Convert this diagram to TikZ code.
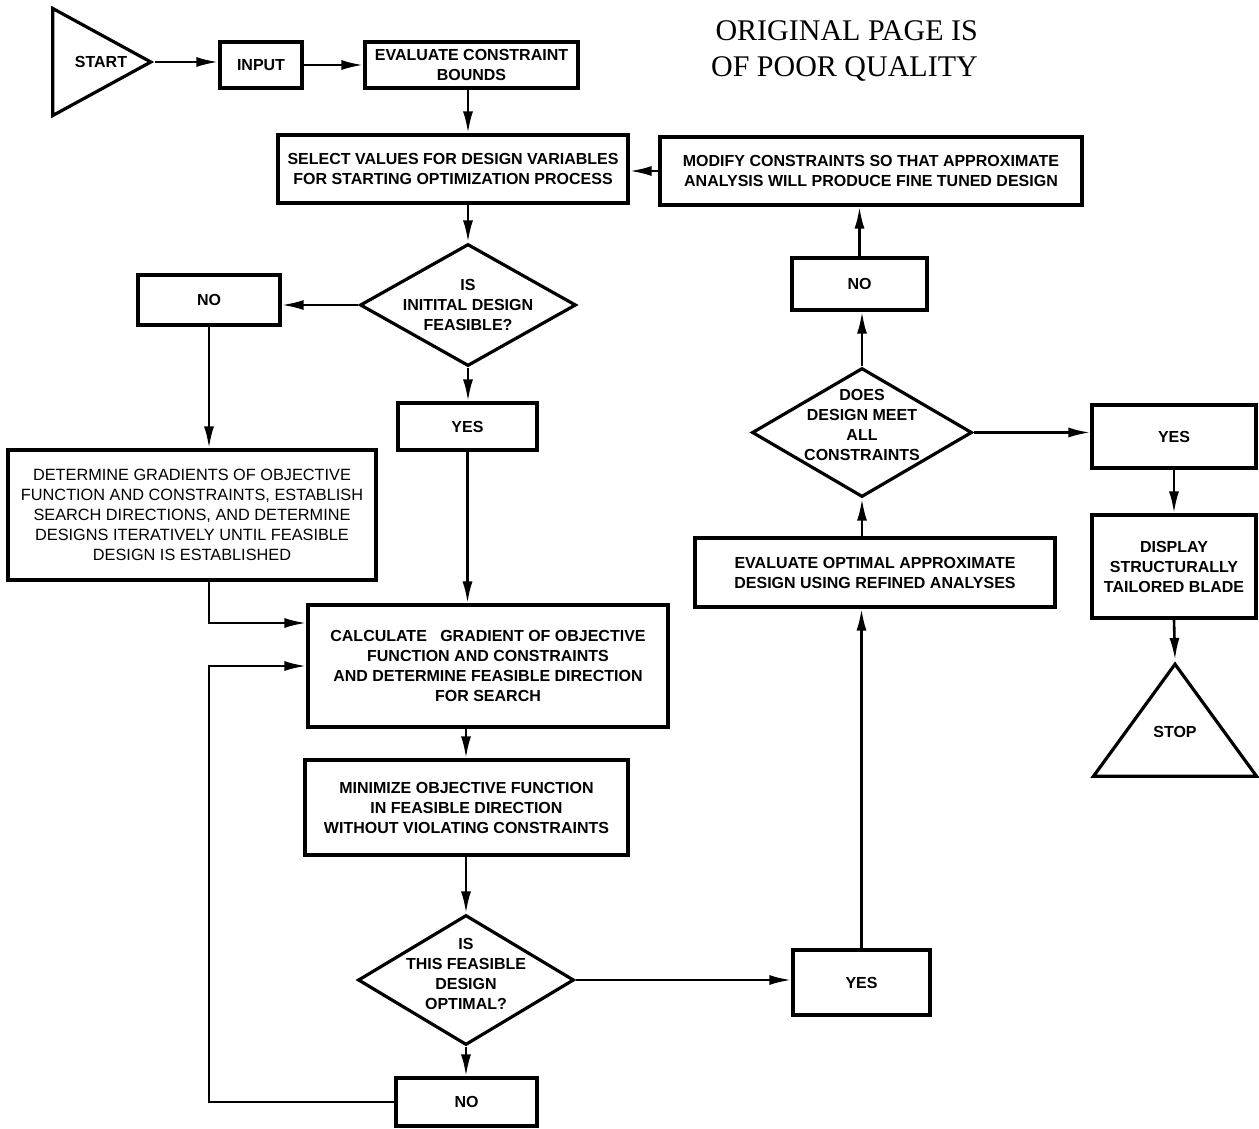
\documentclass[tikz,border=0pt]{standalone}
\usepackage{fontspec}
\setmainfont{Liberation Sans}
\newfontfamily\titlefont{Liberation Serif}
\usetikzlibrary{shapes.geometric,arrows.meta,calc}
\begin{document}
\begin{tikzpicture}[x=1pt,y=-1pt,
  every node/.style={font=\bfseries\fontsize{16}{20}\selectfont, align=center, inner sep=0pt},
  lighttext/.style={font=\fontsize{16.3}{20}\selectfont},
  box/.style={draw, line width=3.2pt, rectangle},
  dia/.style={draw, line width=3.2pt, diamond},
  tri/.style={draw, line width=3.2pt, isosceles triangle, isosceles triangle stretches},
  arr/.style={line width=2.6pt, -{Latex[length=22pt,width=10pt]}}]
\useasboundingbox (0,0) rectangle (1259,1128);

% title
\node[font=\titlefont\fontsize{30}{36}\selectfont, align=right, anchor=north east] (title) at (978,20) {ORIGINAL PAGE IS\\OF POOR QUALITY};

% nodes
\node[tri, minimum height=98pt, minimum width=107pt, anchor=apex] (start) at (155,62) {};
\node (startt) at (101,62) {START};
\node[box, minimum width=82pt, minimum height=46pt] (input) at (261,65) {INPUT};
\node[box, minimum width=213pt, minimum height=46pt] (eval) at (471.5,65) {EVALUATE CONSTRAINT\\BOUNDS};
\node[box, minimum width=350pt, minimum height=68pt] (select) at (453,169) {SELECT VALUES FOR DESIGN VARIABLES\\FOR STARTING OPTIMIZATION PROCESS};
\node[box, minimum width=422pt, minimum height=68pt] (modify) at (871,171) {MODIFY CONSTRAINTS SO THAT APPROXIMATE\\ANALYSIS WILL PRODUCE FINE TUNED DESIGN};
\node[dia, minimum width=216pt, minimum height=122pt] (dia1) at (468,305) {};
\node (dia1t) at (468,305) {IS\\INITITAL DESIGN\\FEASIBLE?};
\node[box, minimum width=142pt, minimum height=50pt] (noL) at (209,300) {NO};
\node[box, minimum width=139pt, minimum height=47pt] (yesL) at (467.5,426.5) {YES};
\node[box, lighttext, minimum width=368pt, minimum height=130pt] (det) at (192,515) {DETERMINE GRADIENTS OF OBJECTIVE\\FUNCTION AND CONSTRAINTS, ESTABLISH\\SEARCH DIRECTIONS, AND DETERMINE\\DESIGNS ITERATIVELY UNTIL FEASIBLE\\DESIGN IS ESTABLISHED};
\node[box, minimum width=360pt, minimum height=122pt] (calc) at (488,666) {CALCULATE \ \ GRADIENT OF OBJECTIVE\\FUNCTION AND CONSTRAINTS\\AND DETERMINE FEASIBLE DIRECTION\\FOR SEARCH};
\node[box, minimum width=323pt, minimum height=95pt] (minim) at (466.5,807.5) {MINIMIZE OBJECTIVE FUNCTION\\IN FEASIBLE DIRECTION\\WITHOUT VIOLATING CONSTRAINTS};
\node[dia, minimum width=216pt, minimum height=130pt] (dia2) at (466,980) {};
\node (dia2t) at (466,974) {IS\\THIS FEASIBLE\\DESIGN\\OPTIMAL?};
\node[box, minimum width=141pt, minimum height=48pt] (noB) at (466.5,1102) {NO};
\node[box, minimum width=137pt, minimum height=65pt] (yesB) at (861.5,982.5) {YES};
\node[box, minimum width=360pt, minimum height=69pt] (evopt) at (875,572.5) {EVALUATE OPTIMAL APPROXIMATE\\DESIGN USING REFINED ANALYSES};
\node[dia, minimum width=220pt, minimum height=129pt] (dia3) at (862,432.5) {};
\node (dia3t) at (862,425) {DOES\\DESIGN MEET\\ALL\\CONSTRAINTS};
\node[box, minimum width=135pt, minimum height=52pt] (noR) at (859.5,284) {NO};
\node[box, minimum width=164pt, minimum height=63pt] (yesR) at (1174,436.5) {YES};
\node[box, minimum width=164pt, minimum height=103pt] (disp) at (1174,566.5) {DISPLAY\\STRUCTURALLY\\TAILORED BLADE};
\node[tri, shape border rotate=90, minimum width=163pt, minimum height=112pt, anchor=apex] (stop) at (1175,660) {};
\node (stopt) at (1175,732) {STOP};

% connectors
\draw[arr] (start.apex) -- (input.west |- start.apex);
\draw[arr] (input.east) -- (eval.west |- input.east);
\draw[arr] (dia1.north |- eval.south) -- (dia1.north |- select.north);
\draw[arr] (modify.west) -- (select.east |- modify.west);
\draw[arr] (dia1.north |- select.south) -- (dia1.north);
\draw[arr] (dia1.west) -- (noL.east |- dia1.west);
\draw[arr] (dia1.south) -- (dia1.south |- yesL.north);
\draw[arr] (noL.south) -- (noL.south |- det.north);
\draw[arr] (yesL.south) -- (yesL.south |- calc.north);
\draw[arr] (noL.south |- det.south) |- ([yshift=43pt]calc.west);
\draw[arr] (noB.west) -| (noL.south |- calc.west) -- (calc.west);
\draw[arr] (dia2.north |- calc.south) -- (dia2.north |- minim.north);
\draw[arr] (dia2.north |- minim.south) -- (dia2.north);
\draw[arr] (dia2.south) -- (dia2.south |- noB.north);
\draw[arr] (dia2.east) -- (dia2.east -| yesB.west);
\draw[arr] (yesB.north) -- (yesB.north |- evopt.south);
\draw[arr] (dia3.south |- evopt.north) -- (dia3.south);
\draw[arr] (dia3.north) -- (dia3.north |- noR.south);
\draw[arr] (noR.north) -- (noR.north |- modify.south);
\draw[arr] (dia3.east) -- (dia3.east -| yesR.west);
\draw[arr] (yesR.south) -- (yesR.south |- disp.north);
\draw[arr] (disp.south) -- (stop.apex);
\end{tikzpicture}
\end{document}
